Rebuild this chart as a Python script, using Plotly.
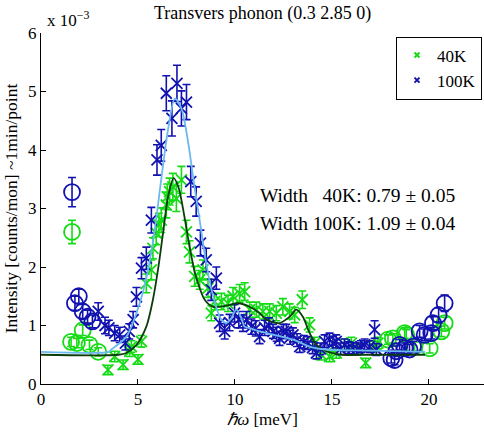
import plotly.graph_objects as go

# ---- data (intensity in units of 1e-3 counts/mon) ----
# 100K crosses
b_x = [2.95, 3.3, 3.5, 3.8, 4.06, 4.35, 4.55, 4.75, 4.92, 5.18, 5.43, 5.69, 5.98, 6.2, 6.46, 6.75, 7.01, 7.24, 7.5, 7.72, 8.0, 8.22, 8.52, 8.78, 9.04, 9.21, 9.47, 9.72, 9.98, 10.2, 10.41, 10.6, 10.85, 11.07, 11.27, 11.53, 11.75, 11.96, 12.15, 12.3, 12.5, 12.65, 12.85, 12.99, 13.2, 13.34, 13.55, 13.76, 14.0, 14.2, 14.4, 14.62, 14.88, 15.05, 15.22, 15.45, 15.65, 15.85, 16.08, 16.3, 16.5, 16.69, 16.94, 17.2, 17.29]
b_y = [1.24, 1.0, 0.96, 0.87, 0.84, 0.7, 0.9, 1.1, 1.49, 1.98, 2.15, 2.8, 3.83, 4.08, 4.97, 4.54, 5.14, 4.71, 4.82, 3.46, 3.12, 2.41, 2.12, 1.61, 1.81, 1.04, 0.9, 1.05, 1.21, 1.1, 1.04, 1.1, 0.98, 0.95, 0.81, 0.96, 1.0, 0.9, 0.85, 0.78, 0.9, 0.9, 0.8, 0.84, 0.75, 0.64, 0.72, 0.7, 0.62, 0.53, 0.6, 0.73, 0.76, 0.7, 0.73, 0.6, 0.67, 0.62, 0.61, 0.6, 0.64, 0.67, 0.64, 0.93, 0.59]
b_e = [0.15, 0.14, 0.13, 0.13, 0.13, 0.12, 0.13, 0.14, 0.16, 0.18, 0.19, 0.22, 0.26, 0.27, 0.3, 0.3, 0.31, 0.3, 0.3, 0.26, 0.25, 0.22, 0.2, 0.18, 0.19, 0.14, 0.13, 0.14, 0.15, 0.14, 0.14, 0.14, 0.13, 0.13, 0.12, 0.13, 0.13, 0.12, 0.12, 0.12, 0.12, 0.12, 0.12, 0.12, 0.11, 0.1, 0.11, 0.11, 0.1, 0.1, 0.1, 0.11, 0.11, 0.11, 0.11, 0.1, 0.1, 0.1, 0.1, 0.1, 0.1, 0.1, 0.1, 0.15, 0.1]
# 40K crosses
g_x = [3.45, 3.8, 4.23, 4.57, 4.66, 5.0, 5.18, 5.43, 5.69, 5.77, 5.94, 6.08, 6.2, 6.46, 6.51, 6.63, 6.8, 6.98, 7.24, 7.5, 7.66, 7.92, 8.18, 8.35, 8.61, 8.78, 8.95, 9.3, 9.64, 9.9, 10.24, 10.5, 10.76, 11.1, 11.44, 11.79, 12.13, 12.47, 12.82, 13.08, 13.47, 13.85, 14.11, 14.45, 14.88, 15.22, 15.65, 16.0, 16.34, 16.74, 17.11, 17.37]
g_y = [0.24, 0.47, 0.33, 0.56, 0.64, 0.42, 0.73, 1.72, 1.95, 2.32, 2.58, 2.72, 2.8, 3.06, 3.2, 3.29, 3.37, 3.17, 3.49, 2.6, 2.26, 1.84, 1.78, 1.95, 1.64, 1.21, 1.41, 1.41, 1.38, 1.5, 1.55, 1.58, 1.27, 1.27, 1.24, 1.24, 1.21, 1.32, 1.24, 1.18, 1.44, 1.01, 0.7, 0.5, 0.47, 0.53, 0.67, 0.7, 0.61, 0.36, 0.64, 0.7]
g_e = [0.08, 0.09, 0.08, 0.09, 0.1, 0.08, 0.1, 0.16, 0.17, 0.18, 0.2, 0.2, 0.21, 0.22, 0.22, 0.23, 0.23, 0.22, 0.23, 0.2, 0.19, 0.17, 0.16, 0.17, 0.16, 0.13, 0.14, 0.14, 0.14, 0.15, 0.15, 0.15, 0.13, 0.13, 0.13, 0.13, 0.13, 0.14, 0.13, 0.13, 0.15, 0.12, 0.1, 0.09, 0.09, 0.09, 0.1, 0.1, 0.09, 0.08, 0.09, 0.1]
# 100K circles
bc_x = [1.6, 1.75, 1.95, 2.15, 2.4, 2.65, 18.06, 18.23, 18.32, 18.49, 18.75, 19.0, 19.18, 19.52, 19.78, 20.12, 20.21, 20.5, 20.81]
bc_y = [3.28, 1.38, 1.5, 1.24, 1.15, 1.07, 0.44, 0.41, 0.56, 0.67, 0.61, 0.59, 0.64, 0.9, 0.84, 0.87, 1.04, 1.18, 1.38]
bc_e = [0.25, 0.12, 0.12, 0.12, 0.11, 0.11, 0.08, 0.08, 0.09, 0.09, 0.09, 0.09, 0.09, 0.1, 0.1, 0.1, 0.11, 0.12, 0.14]
# 40K circles
gc_x = [1.6, 1.55, 1.85, 2.15, 2.5, 2.95, 17.89, 18.14, 18.75, 18.83, 19.26, 20.04, 20.64, 20.81]
gc_y = [2.6, 0.72, 0.7, 0.92, 0.67, 0.55, 0.76, 0.78, 0.87, 0.84, 0.64, 0.61, 0.9, 1.04]
gc_e = [0.2, 0.08, 0.08, 0.09, 0.08, 0.07, 0.08, 0.08, 0.09, 0.09, 0.08, 0.08, 0.09, 0.1]
# fit curves
fg_x = [0, 4.0, 4.4, 4.92, 5.43, 5.77, 6.03, 6.3, 6.55, 6.84, 7.1, 7.4, 7.66, 7.92, 8.18, 8.44, 8.87, 9.55, 10.15, 10.76, 11.27, 11.62, 12.3, 12.82, 13.16, 13.5, 13.85, 14.2, 14.71, 15.57, 17.0, 19.8]
fg_y = [0.5, 0.5, 0.53, 0.67, 0.98, 1.44, 1.95, 2.6, 3.2, 3.52, 3.35, 2.85, 2.35, 1.92, 1.64, 1.44, 1.32, 1.34, 1.38, 1.32, 1.21, 1.1, 1.04, 1.15, 1.27, 1.15, 0.87, 0.67, 0.56, 0.5, 0.5, 0.5]
fb_x = [0, 3.5, 3.63, 4.4, 5.09, 5.52, 5.86, 6.2, 6.55, 6.9, 7.25, 7.6, 7.9, 8.18, 8.5, 8.8, 9.1, 9.3, 9.55, 9.8, 10.07, 10.3, 10.5, 10.8, 11.27, 12.99, 13.85, 14.71, 16.94, 19.8]
fb_y = [0.55, 0.55, 0.59, 0.81, 1.38, 1.95, 2.63, 3.5, 4.35, 4.88, 4.7, 4.1, 3.4, 2.8, 2.1, 1.6, 1.25, 1.1, 1.04, 1.12, 1.27, 1.15, 0.98, 0.95, 0.9, 0.76, 0.64, 0.59, 0.57, 0.55]

GREEN = "#14dc14"
BLUE = "#1212b0"
LBLUE = "#6cb8f0"
DGREEN = "#0c3c0c"
FONT = "Liberation Serif"

fig = go.Figure()

def pts(x, y, e, color, symbol, size):
    fig.add_trace(go.Scatter(
        x=x, y=y, mode="markers", showlegend=False,
        marker=dict(symbol=symbol, size=size, color=color,
                    line=dict(color=color, width=1.8)),
        error_y=dict(type="data", array=e, color=color, thickness=1.6, width=4)))

pts(gc_x, gc_y, gc_e, GREEN, "circle-open", 16)
pts(g_x, g_y, g_e, GREEN, "x-thin-open", 11)
pts(bc_x, bc_y, bc_e, BLUE, "circle-open", 16)
pts(b_x, b_y, b_e, BLUE, "x-thin-open", 11)

fig.add_trace(go.Scatter(x=fg_x, y=fg_y, mode="lines", showlegend=False,
                         line=dict(color=DGREEN, width=1.8, shape="spline", smoothing=0.8)))
fig.add_trace(go.Scatter(x=fb_x, y=fb_y, mode="lines", showlegend=False,
                         line=dict(color=LBLUE, width=1.8, shape="spline", smoothing=0.8)))

# legend entries
fig.add_trace(go.Scatter(x=[None], y=[None], mode="markers", name="40K",
                         marker=dict(symbol="x-thin-open", size=5, color=GREEN,
                                     line=dict(color=GREEN, width=2))))
fig.add_trace(go.Scatter(x=[None], y=[None], mode="markers", name="100K",
                         marker=dict(symbol="x-thin-open", size=5, color=BLUE,
                                     line=dict(color=BLUE, width=2))))

fig.update_layout(
    width=484, height=432,
    margin=dict(l=41, r=0, t=33, b=48),
    paper_bgcolor="white", plot_bgcolor="white",
    font=dict(family=FONT, size=17, color="black"),
    legend=dict(x=0.9955, y=0.99, xanchor="right", yanchor="top",
                bordercolor="black", borderwidth=1, bgcolor="white",
                font=dict(size=17), itemwidth=30, tracegroupgap=0),
    xaxis=dict(range=[0, 22.84], tickvals=[0, 5, 10, 15, 20], ticks="inside",
               ticklen=5, tickcolor="black", showline=True, linecolor="black",
               linewidth=1, showgrid=False, zeroline=False, tickfont=dict(size=17),
               title=dict(text="<i>ℏω</i> [meV]", standoff=4, font=dict(size=17))),
    yaxis=dict(range=[0, 6], tickvals=[0, 1, 2, 3, 4, 5, 6], ticks="inside",
               ticklen=5, tickcolor="black", showline=True, linecolor="black",
               linewidth=1, showgrid=False, zeroline=False, tickfont=dict(size=17),
               title=dict(text="Intensity [counts/mon] ~1min/point", standoff=5,
                          font=dict(size=17.5))),
    annotations=[
        dict(text="Transvers phonon (0.3 2.85 0)", xref="paper", yref="paper",
             x=0.5, y=1, yshift=20, showarrow=False, font=dict(size=18),
             xanchor="center", yanchor="middle"),
        dict(text="x 10<sup>−3</sup>", xref="paper", yref="paper", x=0, y=1,
             xshift=4, yshift=1, showarrow=False, xanchor="left", yanchor="bottom",
             font=dict(size=17)),
        dict(text="Width\u00a0\u00a0\u00a040K: 0.79 ± 0.05", xref="x", yref="y",
             x=11.17, y=3.23, showarrow=False, xanchor="left", yanchor="middle",
             font=dict(size=19.5)),
        dict(text="Width 100K: 1.09 ± 0.04", xref="x", yref="y",
             x=11.17, y=2.75, showarrow=False, xanchor="left", yanchor="middle",
             font=dict(size=19.5)),
    ],
)

fig.write_html("out.html")
